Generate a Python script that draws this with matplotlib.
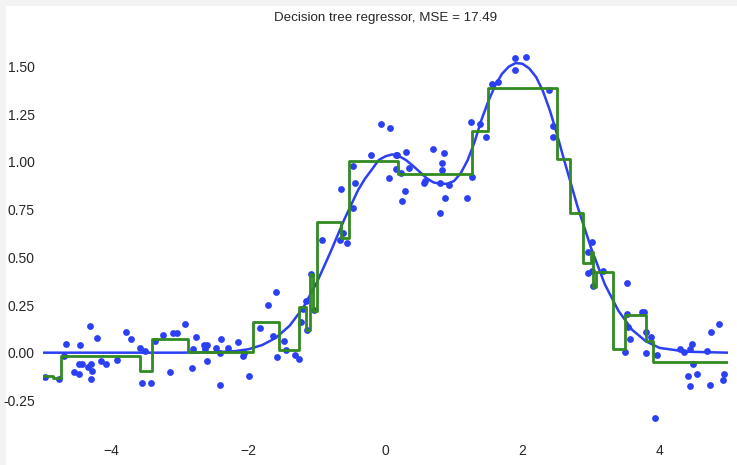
import matplotlib
matplotlib.use('Agg')
import matplotlib.pyplot as plt
from matplotlib.patches import Rectangle
import numpy as np

# noisy samples
pts_x = [-4.97, -4.77, -4.70, -4.66, -4.55, -4.48, -4.48, -4.43, -4.46, -4.31,
         -4.34, -4.30, -4.28, -4.30, -4.21, -4.16, -4.08, -3.92, -3.79, -3.72,
         -3.58, -3.51, -3.56, -3.42, -3.37, -3.25, -3.15, -3.10, -3.05, -2.92,
         -2.82, -2.81, -2.76, -2.65, -2.61, -2.61, -2.64, -2.47, -2.42, -2.40,
         -2.42, -2.30, -2.15, -2.08, -2.06, -1.99, -1.83, -1.72, -1.60, -1.64,
         -1.59, -1.48, -1.45, -1.32, -1.27, -1.23, -1.20, -1.16, -1.14, -1.09,
         -1.04, -0.93, -0.66, -0.62, -0.56, -0.65, -0.48, -0.44, -0.48, -0.21,
         -0.07, 0.07, 0.15, 0.17, 0.30, 0.15, 0.05, 0.23, 0.34, 0.29,
         0.24, 0.56, 0.57, 0.70, 0.85, 0.83, 0.83, 0.79, 0.93, 0.87,
         0.80, 1.19, 1.27, 1.25, 1.38, 1.47, 1.55, 1.64, 1.89, 2.05,
         1.89, 2.38, 2.45, 2.44, 2.95, 3.02, 2.96, 3.01, 3.03, 3.17,
         3.53, 3.52, 3.54, 3.57, 3.50, 3.75, 3.77, 3.81, 3.87, 3.81,
         3.96, 3.94, 4.30, 4.36, 4.44, 4.48, 4.49, 4.41, 4.55, 4.44,
         4.69, 4.73, 4.75, 4.87, 4.94, 4.92]
pts_y = [-0.130, -0.140, -0.017, 0.046, -0.100, -0.110, -0.062, -0.062, 0.041, 0.140,
         -0.074, -0.057, -0.095, -0.137, 0.078, -0.043, -0.057, -0.038, 0.106, 0.071,
         0.027, 0.008, -0.160, -0.160, 0.060, 0.092, -0.100, 0.104, 0.104, 0.150,
         -0.078, 0.018, 0.080, 0.039, 0.039, -0.043, 0.018, 0.022, -0.167, 0.071,
         0.000, 0.025, 0.057, -0.015, -0.004, -0.120, 0.130, 0.250, 0.317, 0.087,
         -0.025, 0.060, 0.012, -0.011, -0.032, 0.160, 0.230, 0.270, 0.120, 0.415,
         0.223, 0.590, 0.590, 0.630, 0.575, 0.860, 0.760, 0.890, 0.980, 1.035,
         1.200, 1.180, 1.035, 1.035, 1.050, 0.965, 0.915, 0.940, 0.970, 0.846,
         0.796, 0.890, 0.900, 1.070, 1.045, 0.995, 0.960, 0.890, 0.880, 0.810,
         0.730, 0.810, 0.920, 1.210, 1.200, 1.130, 1.410, 1.420, 1.547, 1.550,
         1.485, 1.376, 1.190, 1.130, 0.528, 0.578, 0.420, 0.430, 0.348, 0.430,
         0.363, 0.205, 0.135, 0.072, 0.006, 0.214, 0.214, 0.109, 0.080, -0.004,
         -0.013, -0.342, 0.017, 0.001, 0.018, 0.046, -0.057, -0.120, -0.114, -0.174,
         0.008, -0.167, 0.106, 0.150, -0.114, -0.144]

# true function
curve_x = [-5.0, -4.0, -3.0, -2.5, -2.2, -2.0, -1.8, -1.6, -1.4, -1.2, -1.0,
           -0.8, -0.6, -0.4, -0.3, -0.2, -0.1, 0.0, 0.1, 0.2, 0.3, 0.4, 0.5,
           0.6, 0.7, 0.8, 0.9, 1.0, 1.1, 1.2, 1.3, 1.4, 1.5, 1.6, 1.7, 1.8,
           1.9, 2.0, 2.1, 2.2, 2.3, 2.4, 2.5, 2.6, 2.8, 3.0, 3.2, 3.4, 3.6,
           3.8, 4.0, 4.4, 5.0]
curve_y = [0.0, 0.0, 0.0, 0.002, 0.008, 0.018, 0.040, 0.078, 0.141, 0.237, 0.370,
           0.530, 0.700, 0.853, 0.912, 0.960, 1.010, 1.030, 1.040, 1.030, 1.010, 0.980, 0.948,
           0.915, 0.893, 0.885, 0.886, 0.900, 0.942, 1.010, 1.105, 1.220, 1.318, 1.400, 1.462, 1.500,
           1.519, 1.515, 1.490, 1.445, 1.370, 1.270, 1.150, 1.020, 0.770, 0.550, 0.360, 0.220, 0.120,
           0.060, 0.025, 0.005, 0.0]

# tree prediction (piecewise constant)
tree_edges = [-5.00, -4.85, -4.74, -3.58, -3.41, -2.88, -1.93, -1.56, -1.27, -1.165,
              -1.105, -1.06, -1.00, -0.65, -0.53, 0.18, 1.26, 1.50, 2.51, 2.69,
              2.88, 3.00, 3.03, 3.07, 3.32, 3.49, 3.81, 3.90, 5.00]
tree_levels = [-0.123, -0.135, -0.017, -0.097, 0.072, 0.005, 0.160, 0.012, 0.240, 0.120,
               0.415, 0.220, 0.686, 0.600, 1.005, 0.935, 1.163, 1.390, 1.018, 0.733,
               0.468, 0.530, 0.345, 0.424, 0.017, 0.195, 0.060, -0.050]

mse = 17.49

plt.rcParams['font.family'] = ['Liberation Sans', 'DejaVu Sans']

fig = plt.figure(figsize=(7.37, 4.65), dpi=100, facecolor='#f3f3f3')
fig.patches.append(Rectangle((6 / 737, 0), 1, 1 - 6 / 465, transform=fig.transFigure,
                             facecolor='white', edgecolor='none', zorder=-10))
ax = fig.add_axes([43 / 737, 1 - 436 / 465, 685 / 737, 397 / 465])
ax.set_facecolor('white')

blue = '#2b40f2'
green = '#318a22'
ax.scatter(pts_x, pts_y, s=24, color=blue, zorder=3, linewidths=0)
ax.plot(curve_x, curve_y, color=blue, lw=1.8, zorder=2)
ax.step(tree_edges, tree_levels + [tree_levels[-1]], where='post', color=green, lw=2, zorder=4)

ax.set_xlim(-5, 5)
ax.set_ylim(-0.437, 1.645)
ax.set_xticks([-4, -2, 0, 2, 4])
ax.set_yticks(np.arange(-0.25, 1.51, 0.25))
ax.yaxis.set_major_formatter(matplotlib.ticker.FormatStrFormatter('%.2f'))
for s in ax.spines.values():
    s.set_visible(False)
ax.tick_params(length=0, labelsize=10, colors='#262626', pad=6)
ax.set_title('Decision tree regressor, MSE = %.2f' % mse, fontsize=9.6, color='#262626', pad=13)

fig.savefig('out.png', dpi=100, facecolor=fig.get_facecolor())
